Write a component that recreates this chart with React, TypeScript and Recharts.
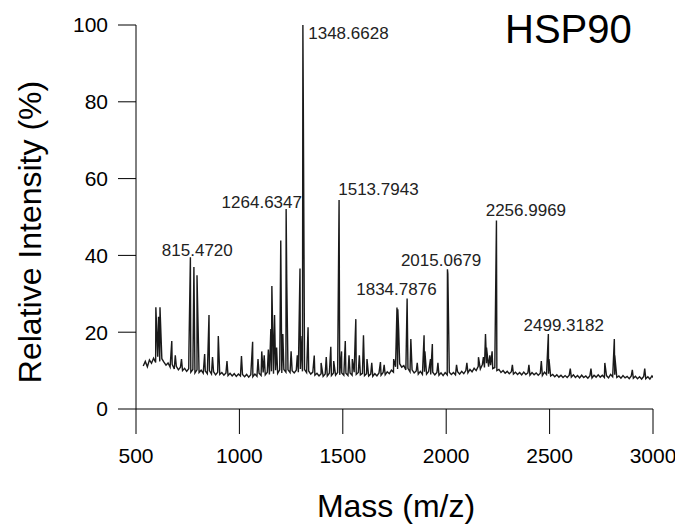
import { LineChart, Line, XAxis, YAxis, ReferenceDot } from "recharts";

// baseline noise, one reading every 10 m/z from 535 to 3005
const BASE_START = 535;
const BASE_STEP = 10;
const baseline = [
  11.2, 12.4, 11.0, 12.8, 11.9, 13.2, 12.1, 13.6, 12.4, 13.1,
  12.2, 11.4, 12.0, 10.9, 11.6, 10.4, 11.1, 10.2, 10.9, 10.0,
  10.6, 9.8, 10.5, 9.6, 10.3, 9.4, 10.2, 9.5, 10.1, 9.3,
  9.9, 9.2, 10.0, 9.1, 9.7, 8.9, 9.6, 9.0, 9.5, 8.8,
  9.4, 8.7, 9.3, 8.6, 9.2, 8.5, 9.1, 8.6, 9.0, 8.4,
  9.0, 8.3, 8.9, 8.4, 9.1, 8.5, 9.3, 8.7, 9.5, 8.9,
  9.6, 9.0, 9.8, 9.2, 10.1, 9.3, 10.2, 9.4, 10.3, 9.6,
  10.2, 9.5, 10.0, 9.4, 10.1, 9.6, 10.4, 9.8, 10.3, 9.5,
  9.9, 9.1, 9.6, 8.8, 9.3, 8.6, 9.2, 8.5, 9.1, 8.6,
  9.3, 8.7, 9.4, 8.8, 9.5, 8.9, 9.4, 8.8, 9.3, 8.7,
  9.4, 8.8, 9.6, 9.0, 9.5, 8.9, 9.3, 8.7, 9.2, 8.6,
  9.1, 8.5, 9.2, 8.6, 9.4, 8.8, 9.5, 8.9, 9.7, 9.2,
  10.1, 9.6, 11.0, 10.4, 11.8, 10.9, 11.3, 10.2, 10.6, 9.7,
  10.2, 9.4, 9.9, 9.1, 9.8, 9.0, 9.7, 9.1, 9.8, 9.0,
  9.6, 8.9, 9.5, 8.8, 9.4, 8.7, 9.5, 8.9, 9.6, 9.0,
  9.5, 8.9, 9.7, 9.1, 9.8, 9.2, 10.0, 9.4, 10.3, 9.7,
  10.6, 10.0, 11.1, 10.4, 11.6, 10.8, 11.9, 11.0, 11.4, 10.5,
  10.8, 10.0, 10.3, 9.5, 10.0, 9.3, 9.8, 9.2, 9.7, 9.1,
  9.6, 9.0, 9.5, 8.9, 9.6, 9.0, 9.4, 8.8, 9.5, 8.9,
  9.4, 8.8, 9.3, 8.7, 9.6, 9.0, 9.2, 8.6, 9.0, 8.4,
  8.9, 8.3, 8.8, 8.2, 8.7, 8.2, 8.8, 8.3, 8.9, 8.2,
  8.7, 8.1, 8.8, 8.2, 8.6, 8.0, 8.7, 8.1, 8.8, 8.3,
  8.9, 8.3, 8.8, 8.2, 8.7, 8.1, 9.0, 8.4, 8.9, 8.2,
  8.6, 8.0, 8.7, 8.1, 8.5, 7.9, 8.6, 8.0, 8.5, 7.9,
  8.4, 7.8, 8.5, 7.9, 8.4, 7.8, 8.6, 8.0,
];

// peaks (m/z position, relative intensity %)
const peakMz = [
  596, 609, 616, 621, 673, 690, 720, 756, 763, 780, 795, 832, 853, 870, 898,
  940, 1010, 1064, 1090, 1108, 1120, 1140, 1152, 1157, 1170, 1180, 1200, 1210,
  1226, 1229, 1250, 1280, 1293, 1297, 1307, 1309, 1332, 1362, 1395, 1420,
  1442, 1456, 1482, 1494, 1512, 1530, 1546, 1560, 1563, 1580, 1600, 1617,
  1640, 1682, 1700, 1746, 1762, 1766, 1770, 1811, 1829, 1860, 1893, 1897,
  1924, 1933, 1960, 2006, 2008, 2050, 2100, 2156, 2180, 2190, 2195, 2211,
  2222, 2243, 2320, 2400, 2460, 2494, 2497, 2600, 2700, 2767, 2813, 2815,
  2900, 2960,
];
const peakInt = [
  26.5, 24, 26.5, 19, 17.7, 14, 13, 15.4, 39.5, 37, 34.8, 14.3, 24.5, 13.5, 19,
  12.5, 13.8, 17.5, 13, 15, 14, 15.5, 20.8, 32, 24.5, 16, 43.9, 19.5,
  52.1, 33.6, 15, 14, 36.6, 19, 100, 80, 21.3, 13.9, 12, 13.5,
  16.2, 12.5, 54.4, 15, 17.7, 14, 13, 18.7, 23.4, 14, 19.2, 13,
  12, 12.2, 11.5, 13, 26.4, 26, 20.8, 28.8, 18.2, 12, 19.2, 15,
  13, 16.9, 12, 36.4, 35.2, 11.5, 12, 13.5, 13.5, 19.5, 16, 14,
  15, 49.1, 11.5, 11.5, 12.5, 19.5, 13, 10.5, 10.5, 12, 18.2, 14,
  10.2, 10.5,
];

// annotated peaks: label text and where the text starts (m/z, % at text middle)
const labelText = [
  "1348.6628", "1264.6347", "815.4720", "1513.7943",
  "1834.7876", "2015.0679", "2256.9969", "2499.3182",
];
const labelMz = [1333, 914, 625, 1478, 1565, 1781, 2191, 2374];
const labelInt = [97.9, 53.9, 41.4, 57.3, 31.3, 38.8, 51.8, 21.9];

const xTicks = [500, 1000, 1500, 2000, 2500, 3000];
const yTicks = [0, 20, 40, 60, 80, 100];

const spectrum = [
  ...baseline.map((v, i) => ({ mz: BASE_START + i * BASE_STEP, v })),
  ...peakMz.map((mz, i) => ({ mz, v: peakInt[i] })),
].sort((a, b) => a.mz - b.mz);

const FONT = "'Liberation Sans', Arial, sans-serif";

export default function App() {
  return (
    <div style={{ position: "absolute", left: 0, top: 0, width: 675, height: 530, background: "#fff", fontFamily: FONT }}>
      <LineChart width={675} height={530} data={spectrum} margin={{ top: 25, right: 22, bottom: 0, left: 0 }}>
        <XAxis
          dataKey="mz"
          type="number"
          domain={[500, 3000]}
          ticks={xTicks}
          allowDataOverflow
          height={121}
          tickSize={25}
          tickMargin={14}
          stroke="#000"
          tick={{ fontSize: 21, fill: "#000" }}
          label={() => (
            <text x={396} y={517} textAnchor="middle" fontSize={32} fill="#000">
              Mass (m/z)
            </text>
          )}
        />
        <YAxis
          type="number"
          domain={[0, 100]}
          ticks={yTicks}
          width={136}
          tickSize={18}
          tickMargin={10}
          stroke="#000"
          tick={{ fontSize: 21, fill: "#000" }}
          label={() => (
            <text
              x={30}
              y={232}
              transform="rotate(-90 30 232)"
              textAnchor="middle"
              dominantBaseline="central"
              fontSize={32}
              fill="#000"
            >
              Relative Intensity (%)
            </text>
          )}
        />
        <Line
          type="linear"
          dataKey="v"
          stroke="#1a1a1a"
          strokeWidth={1.4}
          dot={false}
          isAnimationActive={false}
        />
        {labelText.map((t, i) => (
          <ReferenceDot
            key={t}
            x={labelMz[i]}
            y={labelInt[i]}
            r={0}
            fill="none"
            stroke="none"
            ifOverflow="visible"
            label={{ value: t, position: "right", offset: 0, fontSize: 17, fill: "#222" }}
          />
        ))}
      </LineChart>
      <div style={{ position: "absolute", left: 505, top: 9, fontSize: 40, lineHeight: "40px", color: "#000" }}>
        HSP90
      </div>
    </div>
  );
}
